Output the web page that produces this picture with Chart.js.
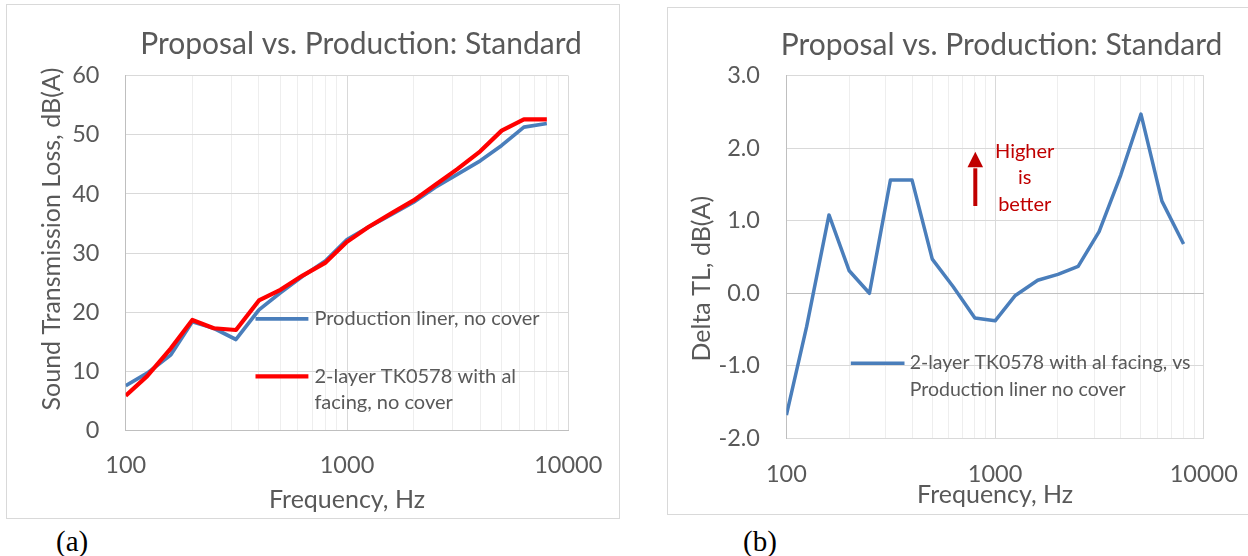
<!DOCTYPE html>
<html lang="en">
<head>
<meta charset="UTF-8">
<title>Proposal vs. Production: Standard</title>
<script src="https://cdn.jsdelivr.net/npm/chart.js"></script>
<style>
  body { margin: 0; background: #fff; width: 1248px; height: 556px; position: relative; overflow: hidden; }
  .panel { position: absolute; border: 1px solid #d9d9d9; box-sizing: border-box; }
  canvas { position: absolute; }
  .caption { position: absolute; font-family: 'Liberation Serif', 'Times New Roman', serif; font-size: 29px; line-height: 1; color: #000; }
</style>
</head>
<body>
<div class="panel" style="left:6px; top:4px; width:614px; height:515px;"></div>
<div class="panel" style="left:667px; top:7px; width:600px; height:508px;"></div>
<canvas id="chartA" width="611" height="512" style="left:7px; top:5px;"></canvas>
<canvas id="chartB" width="580" height="505" style="left:668px; top:8px;"></canvas>
<div class="caption" style="left:56px; top:527px;">(a)</div>
<div class="caption" style="left:743px; top:527px;">(b)</div>

<script>
// 1/3-octave band centre frequencies, Hz
const freqs = [100, 125, 160, 200, 250, 315, 400, 500, 630, 800, 1000, 1250, 1600, 2000, 2500, 3150, 4000, 5000, 6300, 8000];

// (a) sound transmission loss, dB(A)
const productionTL = [7.6, 9.7, 12.8, 18.4, 17.3, 15.4, 20.4, 23.3, 26.1, 28.7, 32.3, 34.4, 36.6, 38.6, 41.1, 43.3, 45.6, 48.2, 51.3, 51.9];
const proposalTL = [5.9, 9.2, 13.9, 18.7, 17.3, 17.0, 22.0, 23.8, 26.2, 28.4, 31.9, 34.4, 36.8, 38.9, 41.5, 44.2, 47.2, 50.7, 52.6, 52.6];

// (b) difference, dB(A)
const deltaTL = [-1.68, -0.46, 1.08, 0.31, 0.0, 1.56, 1.56, 0.47, 0.09, -0.34, -0.38, -0.03, 0.18, 0.26, 0.37, 0.85, 1.63, 2.47, 1.27, 0.68];

// axis ticks
const xGridValues = [100, 200, 300, 400, 500, 600, 700, 800, 900, 1000, 2000, 3000, 4000, 5000, 6000, 7000, 8000, 9000, 10000];
const xTickLabels = [100, 1000, 10000];
const yTicksA = [0, 10, 20, 30, 40, 50, 60];
const yTicksB = [-2, -1, 0, 1, 2, 3];

const FONT = 'Lato';
const GREY = '#595959';
const BLUE = '#4a7ebb';
const RED = '#ff0000';
const DARKRED = '#c00000';

const toPoints = vals => freqs.map((f, i) => ({ x: f, y: vals[i] }));

// draws titles, in-plot legends and notes on top of the chart
function overlay(id, items) {
    return {
        id: id,
        afterDraw(chart) {
            const ctx = chart.ctx;
            items.forEach(it => {
                ctx.save();
                if (it.type === 'line') {
                    ctx.strokeStyle = it.color;
                    ctx.lineWidth = it.width;
                    ctx.beginPath();
                    ctx.moveTo(it.x1, it.y);
                    ctx.lineTo(it.x2, it.y);
                    ctx.stroke();
                } else if (it.type === 'arrow') {
                    ctx.strokeStyle = it.color;
                    ctx.fillStyle = it.color;
                    ctx.lineWidth = 4;
                    ctx.beginPath();
                    ctx.moveTo(it.x, it.bottom);
                    ctx.lineTo(it.x, it.headBase + 1);
                    ctx.stroke();
                    ctx.beginPath();
                    ctx.moveTo(it.x, it.tip);
                    ctx.lineTo(it.x - it.half, it.headBase);
                    ctx.lineTo(it.x + it.half, it.headBase);
                    ctx.closePath();
                    ctx.fill();
                } else {
                    ctx.font = it.size + 'px ' + FONT;
                    ctx.fillStyle = it.color || GREY;
                    ctx.textAlign = it.align || 'center';
                    ctx.textBaseline = 'middle';
                    ctx.translate(it.x, it.y);
                    if (it.rotate) ctx.rotate(-Math.PI / 2);
                    ctx.fillText(it.text, 0, 0);
                }
                ctx.restore();
            });
        }
    };
}

// fixed box sizes so the plot area lands where the layout padding says
function fixX(height) {
    return s => { s.height = height; s.paddingLeft = 0; s.paddingRight = 0; };
}
function fixY(width) {
    return s => { s.width = width; s.paddingTop = 0; s.paddingBottom = 0; };
}

function xAxis(tickPad, titlePad, height, borderColor) {
    return {
        type: 'logarithmic',
        min: 100,
        max: 10000,
        afterBuildTicks: s => { s.ticks = xGridValues.map(v => ({ value: v })); },
        afterFit: fixX(height),
        ticks: {
            autoSkip: false, maxRotation: 0, padding: tickPad, color: GREY,
            font: { family: FONT, size: 23.5 },
            callback: v => xTickLabels.includes(v) ? String(v) : ''
        },
        grid: {
            drawTicks: false,
            color: c => c.tick && xTickLabels.includes(c.tick.value) ? '#d9d9d9' : '#eeeeee'
        },
        border: { color: borderColor },
        title: {
            display: true, text: 'Frequency, Hz', color: GREY,
            font: { family: FONT, size: 25 }, padding: { top: 0, bottom: titlePad }
        }
    };
}

// (a)
new Chart(document.getElementById('chartA'), {
    type: 'line',
    data: {
        datasets: [
            { label: 'Production liner, no cover', data: toPoints(productionTL), borderColor: BLUE, borderWidth: 3.7, pointRadius: 0, borderJoinStyle: 'round', order: 1 },
            { label: '2-layer TK0578 with al facing, no cover', data: toPoints(proposalTL), borderColor: RED, borderWidth: 4.2, pointRadius: 0, borderJoinStyle: 'round', order: 0 }
        ]
    },
    options: {
        responsive: false,
        animation: false,
        devicePixelRatio: 1,
        layout: { padding: { top: 70.6, right: 49.7, left: 0, bottom: 0 } },
        plugins: { legend: { display: false }, tooltip: { enabled: false } },
        scales: {
            x: xAxis(20.3, 2, 86.4, '#bfbfbf'),
            y: {
                min: 0, max: 60,
                afterBuildTicks: s => { s.ticks = yTicksA.map(v => ({ value: v })); },
                afterFit: fixY(118.7),
                ticks: { padding: 26.2, color: GREY, font: { family: FONT, size: 23.5 }, callback: v => String(v) },
                grid: { drawTicks: false, color: '#d9d9d9' },
                border: { color: '#bfbfbf' }
            }
        }
    },
    plugins: [overlay('overlayA', [
        { text: 'Proposal vs. Production: Standard', x: 354, y: 39, size: 30 },
        { text: 'Sound Transmission Loss, dB(A)', x: 45, y: 234, size: 25, rotate: true },
        { type: 'line', x1: 248.5, x2: 301.4, y: 313.8, color: BLUE, width: 3.7 },
        { text: 'Production liner, no cover', x: 307.4, y: 313.8, size: 20, align: 'left' },
        { type: 'line', x1: 248.5, x2: 301.4, y: 371.3, color: RED, width: 4.2 },
        { text: '2-layer TK0578 with al', x: 307.4, y: 371.3, size: 20, align: 'left' },
        { text: 'facing, no cover', x: 307.4, y: 398, size: 20, align: 'left' }
    ])]
});

// (b)
new Chart(document.getElementById('chartB'), {
    type: 'line',
    data: {
        datasets: [
            { label: '2-layer TK0578 with al facing, vs Production liner no cover', data: toPoints(deltaTL), borderColor: BLUE, borderWidth: 3.5, pointRadius: 0, borderJoinStyle: 'round' }
        ]
    },
    options: {
        responsive: false,
        animation: false,
        devicePixelRatio: 1,
        layout: { padding: { top: 67.6, right: 44.2, left: 0, bottom: 0 } },
        plugins: { legend: { display: false }, tooltip: { enabled: false } },
        scales: {
            x: xAxis(21.5, 3, 74.6, '#d9d9d9'),
            y: {
                min: -2, max: 3,
                afterBuildTicks: s => { s.ticks = yTicksB.map(v => ({ value: v })); },
                afterFit: fixY(118.4),
                ticks: { padding: 26.4, color: GREY, font: { family: FONT, size: 23.5 }, callback: v => v.toFixed(1) },
                grid: { drawTicks: false, color: c => c.tick && c.tick.value === 0 ? '#bfbfbf' : '#d9d9d9' },
                border: { color: '#bfbfbf' }
            }
        }
    },
    plugins: [overlay('overlayB', [
        { text: 'Proposal vs. Production: Standard', x: 333.5, y: 37, size: 30 },
        { text: 'Delta TL, dB(A)', x: 34, y: 270.7, size: 25, rotate: true },
        { type: 'line', x1: 182.8, x2: 236.5, y: 355.2, color: BLUE, width: 3.5 },
        { text: '2-layer TK0578 with al facing, vs', x: 241.7, y: 355.2, size: 19.5, align: 'left' },
        { text: 'Production liner no cover', x: 241.7, y: 381.4, size: 19.5, align: 'left' },
        { type: 'arrow', x: 307.3, bottom: 198, tip: 143.7, headBase: 159.3, half: 7.8, color: DARKRED },
        { text: 'Higher', x: 356.7, y: 144, size: 20, color: DARKRED },
        { text: 'is', x: 356.7, y: 170, size: 20, color: DARKRED },
        { text: 'better', x: 356.7, y: 197, size: 20, color: DARKRED }
    ])]
});
</script>
</body>
</html>
